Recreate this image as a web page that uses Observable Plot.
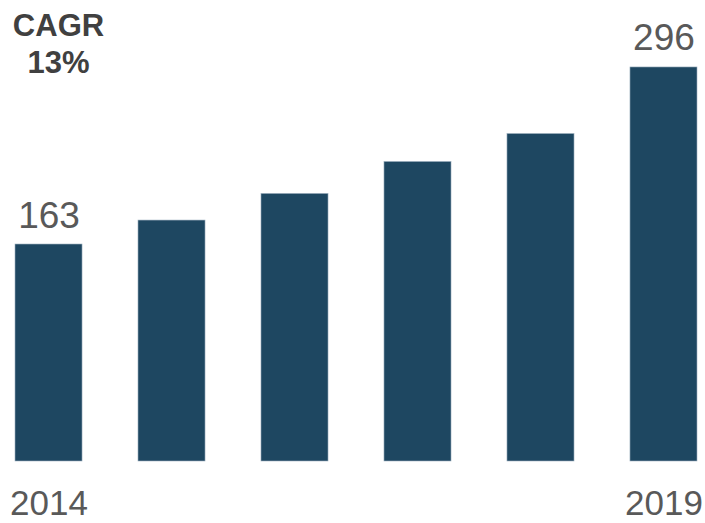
<!DOCTYPE html>
<html>
<head>
<meta charset="utf-8">
<script src="https://cdn.jsdelivr.net/npm/d3@7"></script>
<script src="https://cdn.jsdelivr.net/npm/@observablehq/plot@0.6"></script>
<style>
  html, body { margin: 0; padding: 0; background: #ffffff; }
  #chart { width: 705px; height: 523px; }
</style>
</head>
<body>
<div id="chart"></div>
<script>
const years = ["2014", "2015", "2016", "2017", "2018", "2019"];
const values = [163, 181, 201, 225, 246, 296];
const labelledYears = ["2014", "2019"];
const cagrText = "CAGR\n13%";

const data = years.map((year, i) => ({year, value: values[i]}));
const labelled = data.filter(d => labelledYears.includes(d.year));

const barColor = "#1e4761";
const textColor = "#595959";

const chart = Plot.plot({
  width: 705,
  height: 523,
  marginLeft: 15,
  marginRight: 8,
  marginTop: 0,
  marginBottom: 62,
  style: {fontFamily: "'Liberation Sans', Arial, sans-serif", background: "#ffffff"},
  x: {domain: years, paddingInner: 0.455, paddingOuter: 0, round: false, label: null},
  y: {domain: [0, 346.3], axis: null},
  marks: [
    Plot.barY(data, {x: "year", y: "value", fill: barColor, stroke: "#9db0bf", strokeWidth: 0.6}),
    Plot.text(labelled, {x: "year", y: "value", text: d => String(d.value), fill: textColor,
      fontSize: 37, lineAnchor: "bottom", dy: -17}),
    Plot.axisX({tickSize: 0, tickPadding: 29, fontSize: 35, fill: textColor,
      tickFormat: d => labelledYears.includes(d) ? d : "", label: null}),
    Plot.text([cagrText], {frameAnchor: "top-left", text: d => d, fontSize: 31, fontWeight: "bold",
      fill: "#404040", textAnchor: "middle", lineAnchor: "top", lineHeight: 1.2, dx: 43, dy: 9})
  ]
});
document.getElementById("chart").appendChild(chart);
</script>
</body>
</html>
